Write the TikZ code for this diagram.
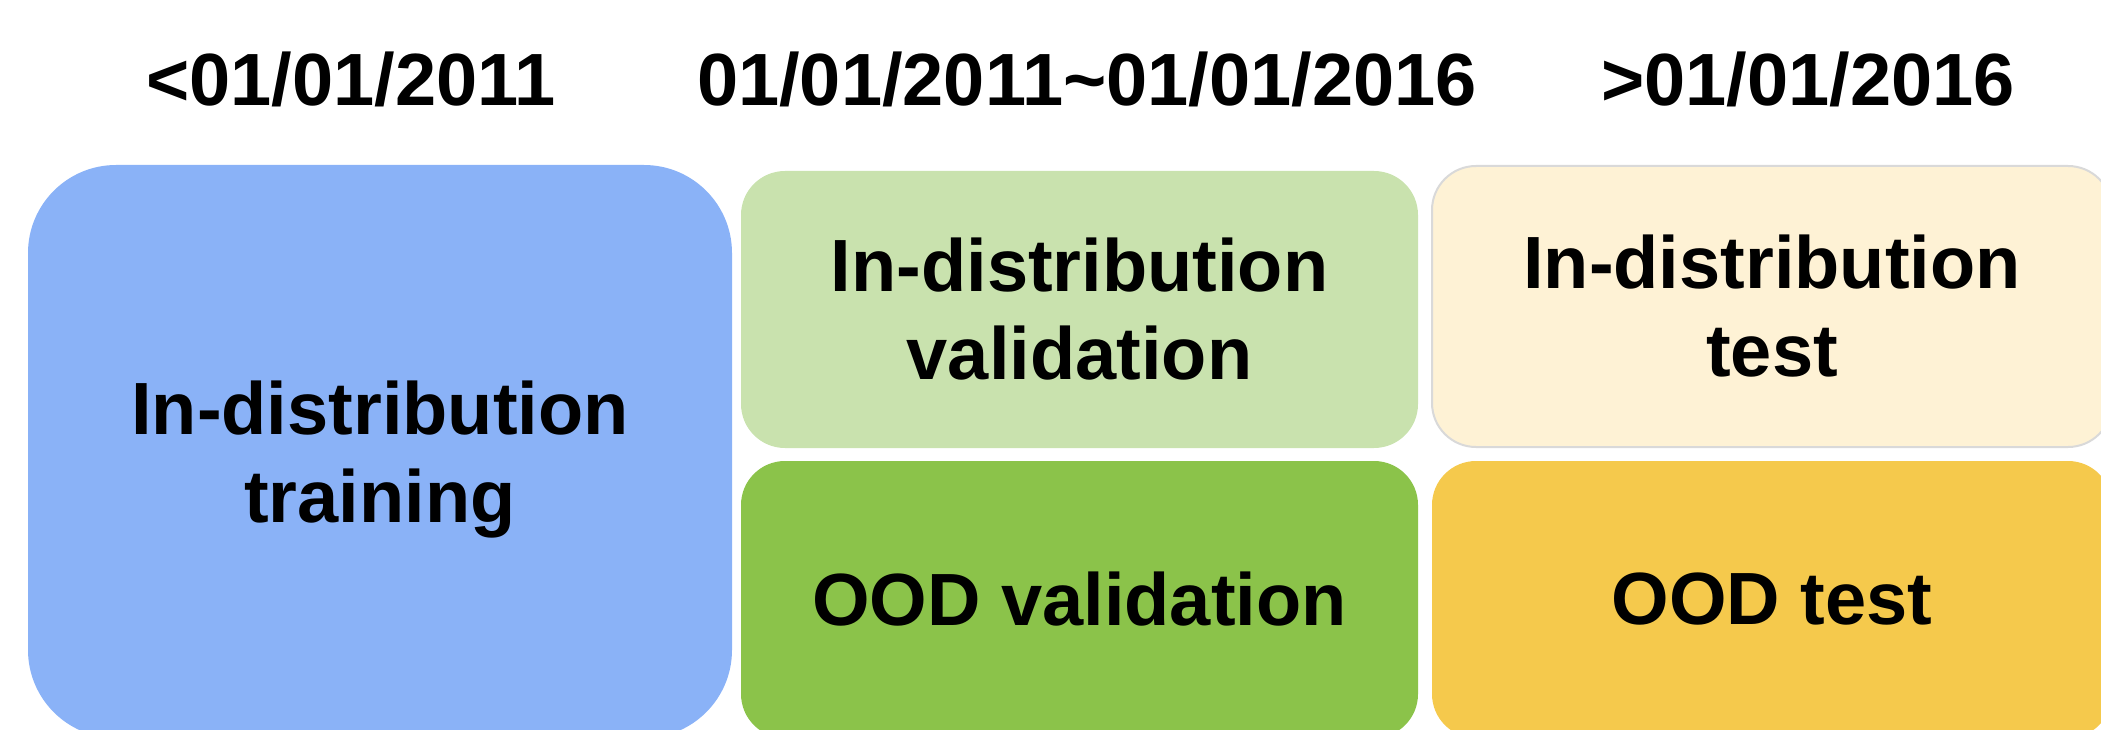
\documentclass[tikz,border=0pt]{standalone}
\usepackage{fontspec}
\setmainfont{Liberation Sans}
\definecolor{trainblue}{HTML}{8AB2F7}
\definecolor{valgreen}{HTML}{C9E2AE}
\definecolor{oodgreen}{HTML}{8BC34A}
\definecolor{testcream}{HTML}{FEF2D5}
\definecolor{oodamber}{HTML}{F5C94C}
\newcommand\splitfont{\fontsize{74}{88}\selectfont\bfseries}
\begin{document}
\begin{tikzpicture}[x=1pt,y=-1pt,
  splitbox/.style={rectangle, inner sep=0pt, rounded corners=44pt,
    align=center, text=black, font=\splitfont},
  splittext/.style={inner sep=0pt, align=center, text=black, font=\splitfont},
  period/.style={anchor=base, inner sep=0pt, text=black, font=\splitfont}]
\useasboundingbox (0,0) rectangle (2101,730);
\clip (0,0) rectangle (2101,730);

% date ranges
\node[period] (before) at (351,106) {<01/01/2011};
\node[period] (between) at (1087,106) {01/01/2011\char"007E 01/01/2016};
\node[period] (after) at (1808,106) {>01/01/2016};

% training split
\node[splitbox, fill=trainblue, rounded corners=88pt,
  minimum width=704pt, minimum height=573pt] (train) at (380,451.5) {};
\node[splittext] (trainlabel) at (380,460) {In-distribution\\training};

% validation splits
\node[splitbox, fill=valgreen, minimum width=677pt, minimum height=277pt]
  (idval) at (1079.5,309.5) {In-distribution\\validation};
\node[splitbox, fill=oodgreen, minimum width=677pt, minimum height=277pt]
  (oodval) at (1079.5,599.5) {OOD validation};

% test splits
\node[splitbox, fill=testcream, draw=black!15, line width=2pt,
  minimum width=680pt, minimum height=281pt]
  (idtest) at (1772,306.5) {In-distribution\\test};
\node[splitbox, fill=oodamber, minimum width=680pt, minimum height=277pt]
  (oodtest) at (1772,599.5) {OOD test};
\end{tikzpicture}
\end{document}
